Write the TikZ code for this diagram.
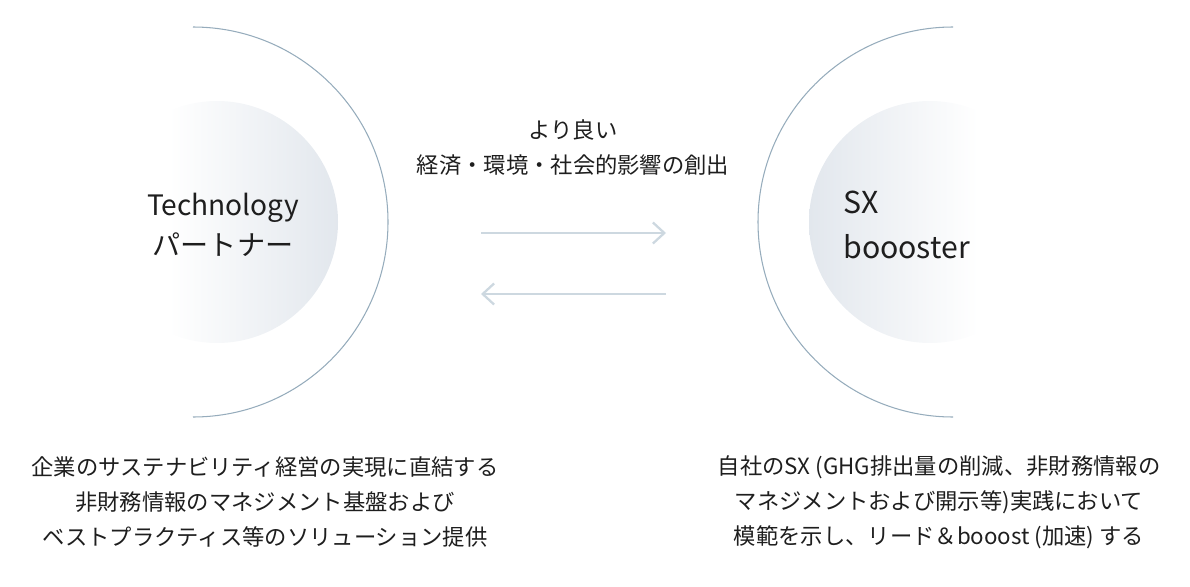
\documentclass[tikz,border=0pt]{standalone}
\usepackage{fontspec}
\setmainfont{Noto Sans CJK JP}
\usetikzlibrary{arrows.meta}
\definecolor{arcline}{RGB}{150,172,188}
\definecolor{arrowline}{RGB}{205,216,224}
\definecolor{discgray}{RGB}{226,231,237}
\definecolor{textdark}{RGB}{30,30,30}
\pgfdeclarehorizontalshading{fadeleft}{100bp}{color(0bp)=(white); color(40bp)=(white); color(75bp)=(discgray); color(100bp)=(discgray)}
\pgfdeclarehorizontalshading{faderight}{100bp}{color(0bp)=(discgray); color(25bp)=(discgray); color(60bp)=(white); color(100bp)=(white)}
\begin{document}
\begin{tikzpicture}[x=0.02cm, y=0.02cm,
  every node/.style={text=textdark, inner sep=0pt},
  bigtext/.style={font=\fontsize{16}{23}\selectfont},
  smalltext/.style={font=\fontsize{12.7}{19.8}\selectfont, align=center},
  halfarc/.style={draw=arcline, line width=0.6pt},
  flow/.style={draw=arrowline, line width=1.3pt, -{Straight Barb[length=6.5pt,width=12pt]}}]
  \useasboundingbox (0,0) rectangle (1190,586);

  \shade[shading=fadeleft] (217,364) circle[radius=121];
  \shade[shading=faderight] (930,364) circle[radius=121];
  \draw[halfarc] (193,559) arc[start angle=90, end angle=-90, radius=195];
  \draw[halfarc] (953,559) arc[start angle=90, end angle=270, radius=195];

  \node[bigtext, align=center] (tech) at (223,361) {Technology\\パートナー};
  \node[bigtext, font=\fontsize{17.2}{26}\selectfont, align=left, anchor=west] (sx) at (843,361) {SX\\boooster};
  \node[smalltext] (benefit) at (573,438) {より良い\\経済・環境・社会的影響の創出};
  \node[smalltext] (techdesc) at (265,84) {企業のサステナビリティ経営の実現に直結する\\非財務情報のマネジメント基盤および\\ベストプラクティス等のソリューション提供};
  \node[smalltext] (sxdesc) at (939,84) {自社のSX (GHG排出量の削減、非財務情報の\\マネジメントおよび開示等)実践において\\模範を示し、リード＆booost (加速) する};

  \coordinate (ta) at (481,353);
  \coordinate (tb) at (666,353);
  \coordinate (ba) at (666,292);
  \coordinate (bb) at (481,292);
  \draw[flow] (ta) -- (tb);
  \draw[flow] (ba) -- (bb);
\end{tikzpicture}
\end{document}
